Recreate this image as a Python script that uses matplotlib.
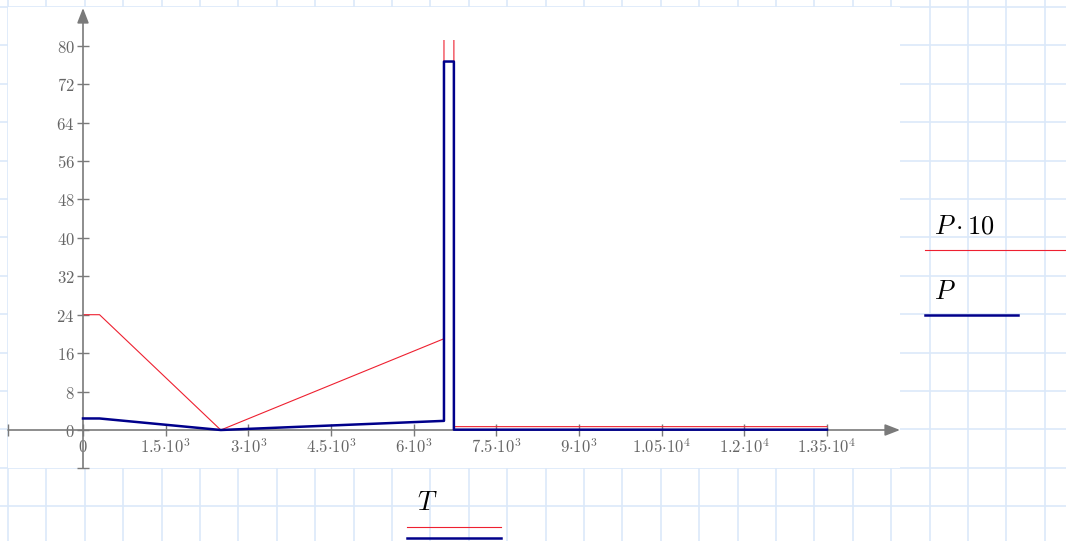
import numpy as np
import matplotlib.pyplot as plt
from matplotlib.patches import Rectangle

plt.rcParams['mathtext.fontset'] = 'cm'

# data
T = [0, 300, 2500, 6550, 6550, 6730, 6730, 13500]
P = [2.4, 2.4, 0, 1.9, 76.7, 76.7, 0.07, 0.07]
x_ticks = [0, 1500, 3000, 4500, 6000, 7500, 9000, 10500, 12000, 13500]
x_labels = ['0', r'1.5{\cdot}10^{3}', r'3{\cdot}10^{3}', r'4.5{\cdot}10^{3}',
            r'6{\cdot}10^{3}', r'7.5{\cdot}10^{3}', r'9{\cdot}10^{3}',
            r'1.05{\cdot}10^{4}', r'1.2{\cdot}10^{4}', r'1.35{\cdot}10^{4}']
y_ticks = [0, 8, 16, 24, 32, 40, 48, 56, 64, 72, 80]

W, H = 1066, 541
gray = '#7a7a7a'
red = '#ee2030'
blue = '#00008b'

fig = plt.figure(figsize=(W / 100, H / 100), dpi=100)

# worksheet grid in the background (pixel coords)
bg = fig.add_axes([0, 0, 1, 1])
bg.set_xlim(0, W)
bg.set_ylim(H, 0)
bg.axis('off')
for x in np.arange(8, W, 38.4):
    bg.axvline(x, color='#dbe9f9', lw=1.2, zorder=1)
for y in np.arange(7, H, 38.4):
    bg.axhline(y, color='#dbe9f9', lw=1.2, zorder=1)
bg.add_patch(Rectangle((8, 7), 892, 461, fc='white', ec='none', zorder=2))

# legend-ish labels
bg.text(934, 234, r'$P\cdot10$', fontsize=19, color='black', zorder=3)
bg.plot([925, 1066], [250, 250], color=red, lw=0.8, zorder=3)
bg.text(934, 299, r'$P$', fontsize=19, color='black', zorder=3)
bg.plot([925, 1018], [315, 315], color=blue, lw=1.8, zorder=3)
bg.text(417, 510, r'$T$', fontsize=19, color='black', zorder=3)
bg.plot([407, 501], [527, 527], color=red, lw=0.8, zorder=3)
bg.plot([407, 501], [538, 538], color=blue, lw=1.8, zorder=3)

# plot axes: pixel mapping
x0, sx = 83, 0.05511
y0, sy = 430, 4.804
xmin, xmax = (8 - x0) / sx, (900 - x0) / sx
ymin, ytop = (y0 - 468) / sy, (y0 - 40) / sy

ax = fig.add_axes([8 / W, (H - 468) / H, 892 / W, (468 - 40) / H])
ax.patch.set_alpha(0)
ax.set_xlim(xmin, xmax)
ax.set_ylim(ymin, ytop)

ax.plot(T, np.array(P) * 10, color=red, lw=0.8, zorder=3)
ax.plot(T, P, color=blue, lw=1.8, zorder=4)

for s in ['top', 'right']:
    ax.spines[s].set_visible(False)
ax.spines['left'].set_position(('data', 0))
ax.spines['bottom'].set_position(('data', 0))
ax.spines['left'].set_color('none')
ax.spines['bottom'].set_color('none')

ax.set_xticks([xmin] + x_ticks)
ax.set_xticklabels([''] + ['$' + l + '$' for l in x_labels])
ax.set_yticks([ymin] + y_ticks)
ax.set_yticklabels([''] + ['$%d$' % v for v in y_ticks])
ax.tick_params(direction='inout', length=8, width=1, color=gray,
               labelcolor='#666666', labelsize=12, pad=2)

ax.annotate('', xy=(xmax, 0), xytext=(xmin, 0), annotation_clip=False,
            arrowprops=dict(arrowstyle='-|>,head_length=0.9,head_width=0.35',
                            color=gray, lw=1.2, shrinkA=0, shrinkB=0))
ax.annotate('', xy=(0, (y0 - 8) / sy), xytext=(0, ymin), annotation_clip=False,
            arrowprops=dict(arrowstyle='-|>,head_length=0.9,head_width=0.35',
                            color=gray, lw=1.2, shrinkA=0, shrinkB=0))

fig.savefig('out.png', dpi=100)
